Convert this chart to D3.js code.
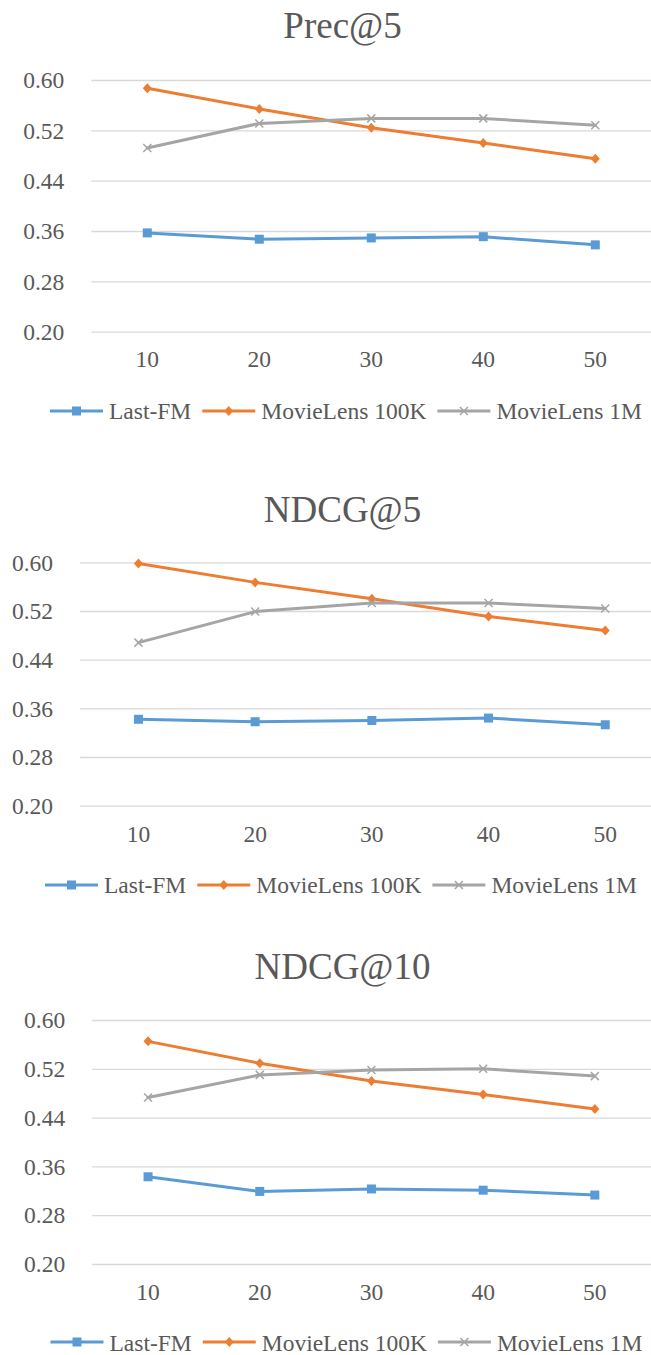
<!DOCTYPE html>
<html>
<head>
<meta charset="utf-8">
<script src="https://cdn.jsdelivr.net/npm/d3@7"></script>
<style>
  html, body { margin: 0; padding: 0; background: #ffffff; }
  svg { display: block; }
</style>
</head>
<body>
<svg id="chart" width="651" height="1355" font-family="Liberation Serif"></svg>
<script>
// ---------- data ----------
const categories = [10, 20, 30, 40, 50];
const yTicks = [0.20, 0.28, 0.36, 0.44, 0.52, 0.60];
const seriesNames = ["Last-FM", "MovieLens 100K", "MovieLens 1M"];
const chartTitles = ["Prec@5", "NDCG@5", "NDCG@10"];

const precLastFM   = [0.357, 0.347, 0.349, 0.351, 0.338];
const precML100K   = [0.587, 0.554, 0.524, 0.500, 0.475];
const precML1M     = [0.492, 0.531, 0.539, 0.539, 0.528];

const ndcg5LastFM  = [0.342, 0.338, 0.340, 0.344, 0.333];
const ndcg5ML100K  = [0.598, 0.567, 0.540, 0.511, 0.488];
const ndcg5ML1M    = [0.468, 0.519, 0.533, 0.533, 0.524];

const ndcg10LastFM = [0.343, 0.319, 0.323, 0.321, 0.313];
const ndcg10ML100K = [0.565, 0.529, 0.500, 0.478, 0.454];
const ndcg10ML1M   = [0.473, 0.510, 0.518, 0.520, 0.508];

const chartData = [
  [precLastFM, precML100K, precML1M],
  [ndcg5LastFM, ndcg5ML100K, ndcg5ML1M],
  [ndcg10LastFM, ndcg10ML100K, ndcg10ML1M]
];

// ---------- layout / style ----------
const FONT = "'Liberation Serif'";
const TEXT_COLOR = "#595959";
const colors = ["#5B9BD5", "#ED7D31", "#A5A5A5"];
const markers = ["square", "diamond", "cross"];
const layouts = [
  { left: 91.3, band: 112.0, top: 80.0,  bottom: 331.7, titleY: 37.7,  xLabY: 367.3, legY: 411,  legTextY: 418.5, legX: 50 },
  { left: 80.1, band: 116.7, top: 562.3, bottom: 805.7, titleY: 521.7, xLabY: 841.7, legY: 885,  legTextY: 893.3, legX: 45 },
  { left: 92.2, band: 111.7, top: 1020,  bottom: 1264,  titleY: 979.3, xLabY: 1300,  legY: 1342, legTextY: 1350.5, legX: 50.5 }
];

const svg = d3.select("#chart");

function drawMarker(g, type, cx, cy, color) {
  if (type === "square") {
    g.append("rect").attr("x", cx - 4.5).attr("y", cy - 4.5)
      .attr("width", 9).attr("height", 9).attr("fill", color);
  } else if (type === "diamond") {
    g.append("path")
      .attr("d", `M${cx},${cy - 5}L${cx + 4.5},${cy}L${cx},${cy + 5}L${cx - 4.5},${cy}Z`)
      .attr("fill", color);
  } else {
    g.append("path")
      .attr("d", `M${cx - 4},${cy - 4}L${cx + 4},${cy + 4}M${cx - 4},${cy + 4}L${cx + 4},${cy - 4}`)
      .attr("stroke", color).attr("stroke-width", 1.5).attr("fill", "none");
  }
}

function styleText(sel, size) {
  sel.attr("font-family", "Liberation Serif")
     .style("font-family", FONT)
     .attr("font-size", size)
     .style("fill", TEXT_COLOR);
}

chartData.forEach((series, ci) => {
  const L = layouts[ci];
  const g = svg.append("g");

  const x = d3.scaleBand().domain(categories)
    .range([L.left, L.left + L.band * categories.length]).padding(0);
  const y = d3.scaleLinear().domain([0.20, 0.60]).range([L.bottom, L.top]);
  const xc = d => x(d) + x.bandwidth() / 2;

  // title
  g.append("text")
    .attr("x", 342.5).attr("y", L.titleY)
    .attr("text-anchor", "middle")
    .text(chartTitles[ci])
    .call(styleText, 37);

  // y axis with gridlines
  const yAxis = d3.axisLeft(y).tickValues(yTicks)
    .tickFormat(d3.format(".2f"))
    .tickSize(-(651 - L.left + 20)).tickPadding(27);
  const ya = g.append("g").attr("transform", `translate(${L.left},0)`).call(yAxis);
  ya.attr("font-family", "Liberation Serif").attr("font-size", 23.5);
  ya.select(".domain").remove();
  ya.selectAll(".tick line").attr("stroke", "#D9D9D9").attr("stroke-width", 1.3);
  ya.selectAll(".tick text").attr("dy", "0.33em").call(styleText, 23.5);

  // x axis labels
  const xAxis = d3.axisBottom(x).tickSize(0).tickPadding(0);
  const xa = g.append("g").attr("transform", `translate(0,${L.bottom})`).call(xAxis);
  xa.attr("font-family", "Liberation Serif").attr("font-size", 23.5);
  xa.select(".domain").remove();
  xa.selectAll(".tick text")
    .attr("y", L.xLabY - L.bottom).attr("dy", 0)
    .call(styleText, 23.5);

  // series lines + markers
  const line = d3.line().x((d, i) => xc(categories[i])).y(d => y(d));
  series.forEach((vals, si) => {
    g.append("path").datum(vals)
      .attr("d", line)
      .attr("fill", "none")
      .attr("stroke", colors[si])
      .attr("stroke-width", 3)
      .attr("stroke-linejoin", "round")
      .attr("stroke-linecap", "round");
    const mg = g.append("g");
    vals.forEach((v, i) => drawMarker(mg, markers[si], xc(categories[i]), y(v), colors[si]));
  });

  // legend
  let lx = L.legX;
  seriesNames.forEach((name, si) => {
    g.append("line")
      .attr("x1", lx).attr("x2", lx + 53)
      .attr("y1", L.legY).attr("y2", L.legY)
      .attr("stroke", colors[si]).attr("stroke-width", 3);
    drawMarker(g, markers[si], lx + 26.5, L.legY, colors[si]);
    const t = g.append("text")
      .attr("x", lx + 59).attr("y", L.legTextY)
      .text(name)
      .call(styleText, 23.5);
    lx = lx + 59 + t.node().getComputedTextLength() + 11;
  });
});
</script>
</body>
</html>
